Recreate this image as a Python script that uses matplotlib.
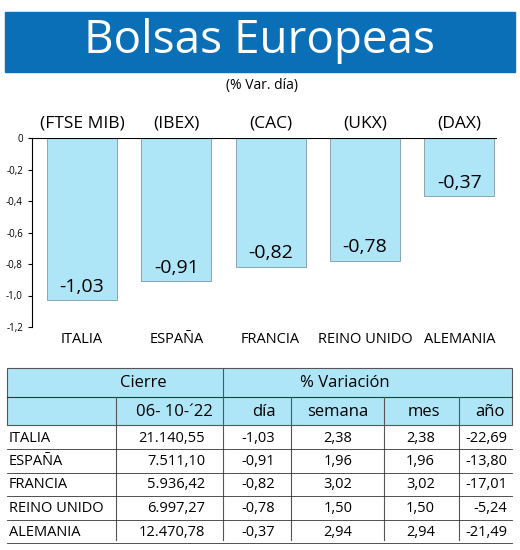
import matplotlib
matplotlib.use("Agg")
import matplotlib.pyplot as plt
from matplotlib.patches import Rectangle

plt.rcParams['font.family'] = ['Liberation Sans Narrow', 'Open Sans', 'DejaVu Sans']

countries = ["ITALIA", "ESPAÑA", "FRANCIA", "REINO UNIDO", "ALEMANIA"]
indices = ["(FTSE MIB)", "(IBEX)", "(CAC)", "(UKX)", "(DAX)"]
dia = [-1.03, -0.91, -0.82, -0.78, -0.37]
cierre = ["21.140,55", "7.511,10", "5.936,42", "6.997,27", "12.470,78"]
semana = [2.38, 1.96, 3.02, 1.50, 2.94]
mes = [2.38, 1.96, 3.02, 1.50, 2.94]
anio = [-22.69, -13.80, -17.01, -5.24, -21.49]
yticks = [0, -0.2, -0.4, -0.6, -0.8, -1.0, -1.2]

W, H = 520, 550
fig = plt.figure(figsize=(W/100, H/100), dpi=100)
def fx(x): return x / W
def fy(y): return 1 - y / H
def fmt(v): return f"{v:.2f}".replace(".", ",")

# title banner
fig.patches.append(Rectangle((fx(5), fy(72)), fx(510), 60/H, transform=fig.transFigure,
                             color="#0a6fb7", zorder=0))
fig.text(fx(260), fy(41), "Bolsas Europeas", color="white", fontsize=33,
         ha="center", va="center", family=['Open Sans', 'DejaVu Sans'])
fig.text(fx(262), fy(86), "(% Var. día)", fontsize=10, ha="center", va="center")

# bar chart
ax = fig.add_axes([fx(32), fy(327), fx(465), (327-138)/H])
x = list(range(len(countries)))
ax.bar(x, dia, width=0.74, color="#aee6f7", edgecolor="#7a9aa6", linewidth=0.6, zorder=2)
ax.axhline(0, color="black", lw=1.5, zorder=3)
ax.set_xlim(-0.53, 4.4)
ax.set_ylim(-1.2, 0)
ax.set_yticks(yticks)
ax.set_yticklabels(["0" if t == 0 else f"{t:.1f}".replace(".", ",") for t in yticks], fontsize=7)
ax.set_xticks([])
for s in ["top", "right", "bottom"]:
    ax.spines[s].set_visible(False)
ax.tick_params(axis="y", length=3)
for i, v in enumerate(dia):
    ax.text(i, v + 0.03, fmt(v), ha="center", va="bottom", fontsize=14, zorder=4)
    ax.text(i, 0.09, indices[i], ha="center", va="center", fontsize=12.5, clip_on=False)
    ax.text(i, -1.28, countries[i], ha="center", va="center", fontsize=10.5, clip_on=False)

# table
lb = "#aee6f7"
cols = [7, 116, 223, 291, 384, 459, 512]
fig.patches.append(Rectangle((fx(7), fy(425)), fx(505), 57/H, transform=fig.transFigure,
                             facecolor=lb, edgecolor="#555555", lw=0.8, zorder=0))
def hline(y, x0, x1, lw=0.8):
    fig.add_artist(plt.Line2D([fx(x0), fx(x1)], [fy(y), fy(y)], color="#333333", lw=lw))
def vline(x, y0, y1, lw=0.8):
    fig.add_artist(plt.Line2D([fx(x), fx(x)], [fy(y0), fy(y1)], color="#555555", lw=lw))
hline(397, 7, 512)
vline(223, 368, 397)
for c in cols[1:-1]:
    vline(c, 397, 540)
fig.text(fx(143), fy(383), "Cierre", fontsize=12, ha="center", va="center")
fig.text(fx(345), fy(383), "% Variación", fontsize=12, ha="center", va="center")
heads = ["06- 10-´22", "día", "semana", "mes", "año"]
hx = [213, 276, 338, 440, 505]
has = ["right", "right", "center", "right", "right"]
for h, xx, a in zip(heads, hx, has):
    fig.text(fx(xx), fy(412), h, fontsize=12, ha=a, va="center")
for r in range(5):
    yc = 438 + r * 23.5
    hline(yc + 11, 7, 512, lw=0.6)
    fig.text(fx(9), fy(yc), countries[r], fontsize=10.5, ha="left", va="center")
    fig.text(fx(205), fy(yc), cierre[r], fontsize=10.5, ha="right", va="center")
    fig.text(fx(275), fy(yc), fmt(dia[r]), fontsize=10.5, ha="right", va="center")
    fig.text(fx(338), fy(yc), fmt(semana[r]), fontsize=10.5, ha="center", va="center")
    fig.text(fx(435), fy(yc), fmt(mes[r]), fontsize=10.5, ha="right", va="center")
    fig.text(fx(507), fy(yc), fmt(anio[r]), fontsize=10.5, ha="right", va="center")

fig.savefig("out.png", dpi=100)
